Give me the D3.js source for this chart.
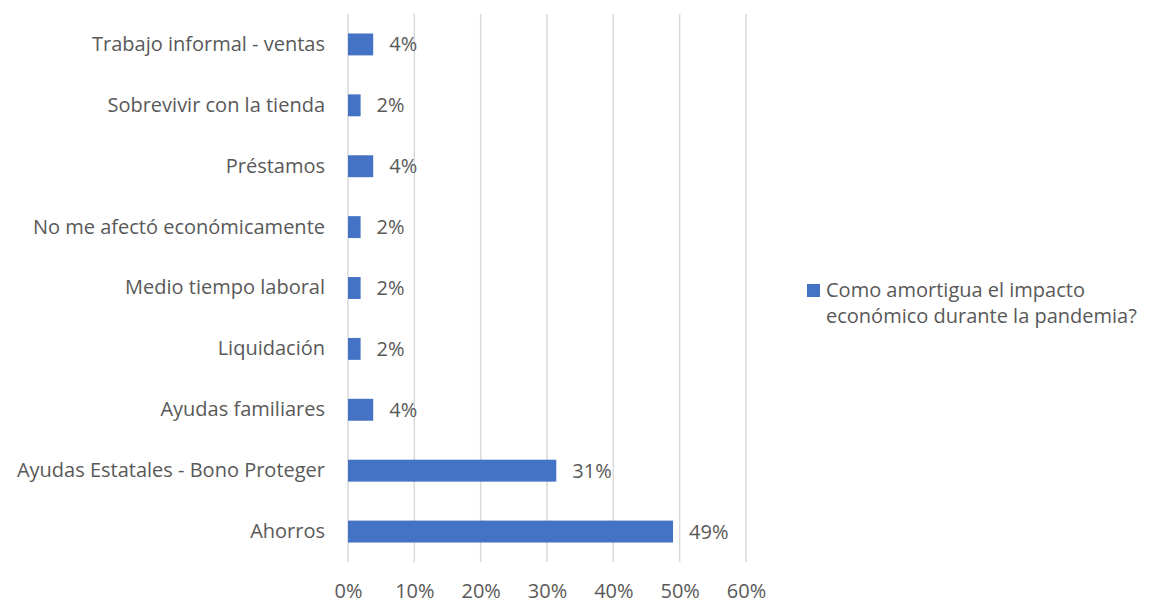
<!DOCTYPE html>
<html>
<head>
<meta charset="utf-8">
<script src="https://cdn.jsdelivr.net/npm/d3@7"></script>
<style>
  body { margin: 0; background: #fff; }
  svg text { font-family: "Open Sans", "Noto Sans", sans-serif; fill: #595959; }
</style>
</head>
<body>
<svg width="1154" height="603"></svg>
<script>
// categories, bottom to top as in the reference
var categories = [
    "Ahorros",
    "Ayudas Estatales - Bono Proteger",
    "Ayudas familiares",
    "Liquidación ",
    "Medio tiempo laboral",
    "No me afectó económicamente",
    "Préstamos",
    "Sobrevivir con la tienda",
    "Trabajo informal - ventas"
];
var values = [49.0, 31.4, 3.8, 1.9, 1.9, 1.9, 3.8, 1.9, 3.8];
var ticks = [0, 10, 20, 30, 40, 50, 60];
var seriesName = "Como amortigua el impacto económico durante la pandemia?";
var legendLines = ["Como amortigua el impacto", "económico durante la pandemia?"];

var fontSize = "20px";

var svg = d3.select("svg");
var margin = { top: 14, left: 348, right: 408, bottom: 41 };
var width = 1154 - margin.left - margin.right,
    height = 603 - margin.top - margin.bottom;
var g = svg.append("g").attr("transform", "translate(" + margin.left + "," + margin.top + ")");

var x = d3.scaleLinear().domain([0, 60]).range([0, width]);
var y = d3.scaleBand()
    .domain(categories.slice().reverse())
    .range([0, height])
    .paddingInner(0.64)
    .paddingOuter(0.32);

// gridlines
g.selectAll(".grid")
    .data(ticks)
    .enter().append("line")
    .attr("x1", function (d) { return x(d); })
    .attr("x2", function (d) { return x(d); })
    .attr("y1", 0)
    .attr("y2", height)
    .attr("stroke", "#d9d9d9")
    .attr("stroke-width", 1.5);

// bars
g.selectAll(".bar")
    .data(values)
    .enter().append("rect")
    .attr("x", x(0))
    .attr("y", function (d, i) { return y(categories[i]); })
    .attr("width", function (d) { return x(d) - x(0); })
    .attr("height", y.bandwidth())
    .attr("fill", "#4472c4");

// value labels
g.selectAll(".val")
    .data(values)
    .enter().append("text")
    .attr("x", function (d) { return x(d) + 16; })
    .attr("y", function (d, i) { return y(categories[i]) + y.bandwidth() / 2; })
    .attr("dy", "0.35em")
    .style("font-size", fontSize)
    .text(function (d) { return Math.round(d) + "%"; });

// category labels
var yAxis = g.append("g").call(d3.axisLeft(y).tickSize(0).tickPadding(23));
yAxis.select(".domain").remove();
yAxis.selectAll("text")
    .style("font-size", fontSize)
    .attr("fill", null);

// x axis labels
var xAxis = g.append("g")
    .attr("transform", "translate(0," + height + ")")
    .call(d3.axisBottom(x).tickValues(ticks).tickSize(0).tickPadding(22)
        .tickFormat(function (d) { return d + "%"; }));
xAxis.select(".domain").remove();
xAxis.selectAll("text")
    .style("font-size", fontSize)
    .attr("fill", null);
svg.selectAll(".tick text").attr("font-family", null).attr("font-size", null);

// legend
var legend = svg.append("g").attr("transform", "translate(807,284)");
legend.append("rect")
    .attr("width", 13).attr("height", 13)
    .attr("fill", "#4472c4");
legend.selectAll("text")
    .data(legendLines)
    .enter().append("text")
    .attr("x", 19)
    .attr("y", function (d, i) { return 13 + i * 26; })
    .style("font-size", fontSize)
    .text(function (d) { return d; });
legend.append("title").text(seriesName);
</script>
</body>
</html>
